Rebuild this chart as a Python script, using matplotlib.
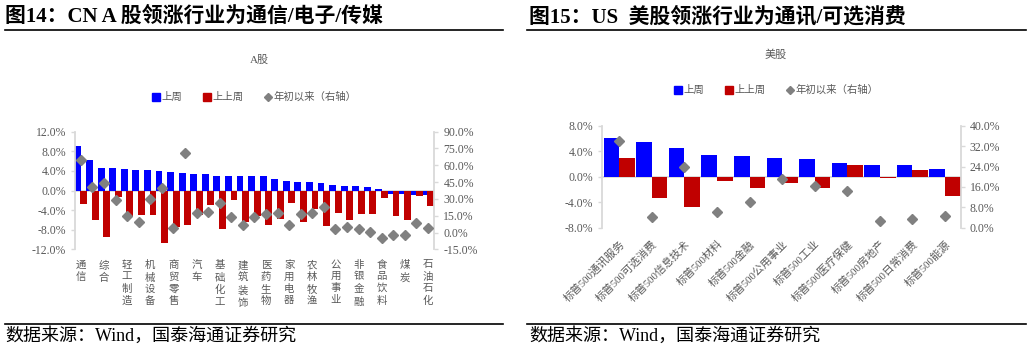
import matplotlib
matplotlib.use("Agg")
import numpy as np
from matplotlib import pyplot as plt
from matplotlib.lines import Line2D
from matplotlib.ticker import FuncFormatter, MultipleLocator

plt.rcParams['font.family'] = ['Liberation Serif', 'Noto Sans CJK SC']

# ---- CN A-share data (weekly returns %, YTD % on right axis) ----
cn_names = ['通信', '电子', '综合', '传媒', '轻工制造', '计算机', '机械设备', '国防军工',
            '商贸零售', '社会服务', '汽车', '纺织服饰', '基础化工', '环保', '建筑装饰',
            '建筑材料', '医药生物', '美容护理', '家用电器', '电力设备', '农林牧渔',
            '交通运输', '公用事业', '房地产', '非银金融', '有色金属', '食品饮料',
            '钢铁', '煤炭', '银行', '石油石化']
cn_last = [9.0, 6.3, 4.6, 4.5, 4.4, 4.1, 4.1, 3.9, 3.7, 3.6, 3.4, 3.3, 3.0, 3.0, 3.0,
           2.9, 2.9, 2.3, 2.0, 1.8, 1.8, 1.5, 1.1, 1.0, 1.0, 0.7, 0.3, -0.7, -0.7, -0.9, -1.0]
cn_prev = [-2.7, -6.1, -9.4, -1.4, -5.4, -5.1, -5.1, -10.8, -7.4, -7.1, -5.1, -3.0, -7.9,
           -2.0, -6.4, -5.3, -7.1, -5.9, -2.6, -6.4, -3.8, -7.3, -4.5, -6.1, -4.8, -4.8,
           -1.6, -5.3, -6.0, -1.2, -3.2]
cn_ytd = [64.5, 40.5, 43.9, 29.3, 14.5, 9.5, 29.7, 39.8, 3.8, 71.2, 17.1, 18.6, 26.6,
          14.2, 6.4, 14.2, 16.4, 17.8, 6.8, 16.3, 17.8, 23.2, 3.0, 5.3, 3.0, 0.6, -5.3,
          -2.4, -2.4, 8.9, 3.9]

# ---- US sector data ----
us_names = ['标普500通讯服务', '标普500可选消费', '标普500信息技术', '标普500材料',
            '标普500金融', '标普500公用事业', '标普500工业', '标普500医疗保健',
            '标普500房地产', '标普500日常消费', '标普500能源']
us_last = [6.0, 5.4, 4.45, 3.4, 3.25, 3.0, 2.8, 2.1, 1.9, 1.8, 1.15]
us_prev = [3.0, -3.3, -4.8, -0.7, -1.7, -1.05, -1.8, 1.9, -0.25, 1.0, -3.1]
us_ytd = [33.9, 4.3, 23.7, 6.3, 10.1, 19.0, 16.3, 14.4, 2.7, 3.3, 4.6]

BLUE = '#0000FF'
RED = '#C00000'
GREY = '#808080'
TXT = '#595959'
AXC = '#d9d9d9'

W, H = 1032, 351
fig = plt.figure(figsize=(W / 100, H / 100), dpi=100)


def fx(px):
    return px / W


def fy(py):
    return 1 - py / H


pct = FuncFormatter(lambda v, p: f'{v:.1f}%')


def style_axes(ax, ax2):
    for a in (ax, ax2):
        for s in ('top', 'bottom'):
            a.spines[s].set_visible(False)
        a.spines['left'].set_color(AXC)
        a.spines['right'].set_color(AXC)
        a.spines['left'].set_linewidth(1.3)
        a.spines['right'].set_linewidth(1.3)
        a.tick_params(axis='y', colors=AXC, labelcolor=TXT, labelsize=8.5,
                      length=3, width=1)
        a.yaxis.set_major_formatter(pct)
    ax2.spines['left'].set_visible(False)
    ax.spines['right'].set_visible(False)
    ax.axhline(0, color=AXC, lw=1.3, zorder=1)
    ax.tick_params(axis='x', length=0, labelcolor=TXT)


def legend(cx, cy):
    handles = [Line2D([], [], marker='s', color=BLUE, ls='', ms=5.5),
               Line2D([], [], marker='s', color=RED, ls='', ms=5.5),
               Line2D([], [], marker='D', color=GREY, ls='', ms=3.8)]
    fig.legend(handles, ['上周', '上上周', '年初以来（右轴）'], loc='center',
               bbox_to_anchor=(fx(cx), fy(cy)), ncol=3, frameon=False, fontsize=7.5,
               handlelength=0.8, handletextpad=0.1, columnspacing=2.0,
               labelcolor=TXT, borderpad=0)


# ---------------- left panel ----------------
ax = fig.add_axes([fx(75), fy(249.3), fx(434.3 - 75), (249.3 - 131.7) / H])
x = np.arange(len(cn_names))
ax.bar(x - 0.24, cn_last, width=0.6, color=BLUE, zorder=2)
ax.bar(x + 0.24, cn_prev, width=0.6, color=RED, zorder=2)
ax.set_xlim(-0.5, 30.55)
ax.set_ylim(-12, 12)
ax.yaxis.set_major_locator(MultipleLocator(4))
ax.set_xticks(x)
ax.set_xticklabels(['\n'.join(n) if i % 2 == 0 else '' for i, n in enumerate(cn_names)],
                   fontsize=7.5, linespacing=1.3, va='top')
ax.tick_params(axis='x', pad=8)
ax2 = ax.twinx()
ax2.plot(x, cn_ytd, 'D', color=GREY, ms=4.6, zorder=3)
ax2.set_ylim(-15, 90)
ax2.yaxis.set_major_locator(MultipleLocator(15))
style_axes(ax, ax2)

fig.text(fx(259), fy(60), 'A股', ha='center', va='center', fontsize=8, color=TXT)
legend(254, 97)

# ---------------- right panel ----------------
bx = fig.add_axes([fx(602), fy(227.7), fx(960.7 - 602), (227.7 - 125.7) / H])
xu = np.arange(len(us_names))
bx.bar(xu - 0.24, us_last, width=0.48, color=BLUE, zorder=2)
bx.bar(xu + 0.24, us_prev, width=0.48, color=RED, zorder=2)
bx.set_xlim(-0.53, 10.48)
bx.set_ylim(-8, 8)
bx.yaxis.set_major_locator(MultipleLocator(4))
bx.set_xticks(xu)
bx.set_xticklabels(us_names, rotation=45, ha='right', va='top',
                   rotation_mode='anchor', fontsize=7.8)
bx.tick_params(axis='x', pad=8)
bx2 = bx.twinx()
bx2.plot(xu, us_ytd, 'D', color=GREY, ms=4.6, zorder=3)
bx2.set_ylim(0, 40)
bx2.yaxis.set_major_locator(MultipleLocator(8))
style_axes(bx, bx2)

fig.text(fx(776), fy(55), '美股', ha='center', va='center', fontsize=8, color=TXT)
legend(776, 90)

# ---------------- titles, rules, sources ----------------
fig.text(fx(5), fy(17), '图14：CN A 股领涨行业为通信/电子/传媒', fontsize=15,
         fontweight='bold', va='center')
fig.text(fx(529), fy(17), '图15：US  美股领涨行业为通讯/可选消费', fontsize=15,
         fontweight='bold', va='center')
for x0, x1 in ((5, 503), (527, 1026)):
    fig.add_artist(Line2D([fx(x0), fx(x1)], [fy(29.5)] * 2, color='black', lw=1.2))
    fig.add_artist(Line2D([fx(x0), fx(x1)], [fy(323.5)] * 2, color='black', lw=1.2))
fig.text(fx(5), fy(336), '数据来源：Wind，国泰海通证券研究', fontsize=13, va='center')
fig.text(fx(529), fy(336), '数据来源：Wind，国泰海通证券研究', fontsize=13, va='center')

fig.savefig('out.png', dpi=100)
